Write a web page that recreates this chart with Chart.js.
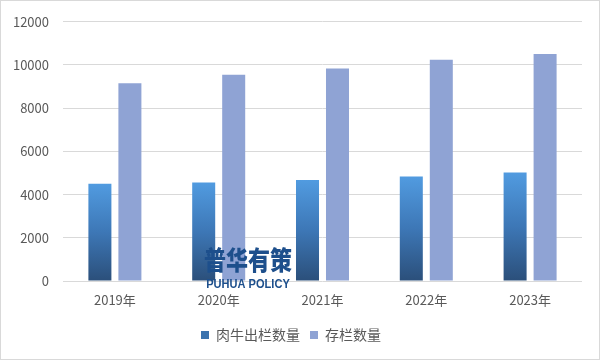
<!DOCTYPE html>
<html>
<head>
<meta charset="utf-8">
<script src="https://cdn.jsdelivr.net/npm/chart.js@4"></script>
<style>
  html, body { margin: 0; padding: 0; background: #ffffff; }
  #wrap { width: 601px; height: 361px; position: relative; }
</style>
</head>
<body>
<div id="wrap"><canvas id="c" width="601" height="361"></canvas></div>
<script>
const categories = ['2019年', '2020年', '2021年', '2022年', '2023年'];
const seriesNames = ['肉牛出栏数量', '存栏数量'];
const slaughterValues = [4500, 4560, 4680, 4840, 5020];
const stockValues = [9160, 9550, 9840, 10240, 10510];
const yTicks = [0, 2000, 4000, 6000, 8000, 10000, 12000];

const FONT = '"Noto Sans CJK SC", "Noto Sans", sans-serif';

function blueGradient(ctx) {
  const chart = ctx.chart;
  const { chartArea, scales } = chart;
  if (!chartArea || !scales.y || ctx.raw === undefined) return '#4a8bd0';
  const top = scales.y.getPixelForValue(ctx.raw);
  const bot = scales.y.getPixelForValue(0);
  const g = chart.ctx.createLinearGradient(0, top, 0, bot);
  g.addColorStop(0, '#519be0');
  g.addColorStop(0.5, '#3d77b6');
  g.addColorStop(1, '#2b4f7a');
  return g;
}

const extras = {
  id: 'extras',
  afterDraw(chart) {
    const c = chart.ctx;
    c.save();
    c.strokeStyle = '#d9d9d9';
    c.lineWidth = 1;
    c.strokeRect(0.5, 0.5, 599, 359);
    c.fillStyle = '#1d4f8c';
    c.textAlign = 'center';
    c.textBaseline = 'alphabetic';
    c.save();
    c.translate(248, 270);
    c.scale(1, 1.2);
    c.font = '900 22px ' + FONT;
    c.fillText('普华有策', 0, 0);
    c.restore();
    c.save();
    c.translate(248, 288);
    c.scale(0.85, 1);
    c.font = 'bold 13px "Liberation Sans", sans-serif';
    c.fillText('PUHUA POLICY', 0, 0);
    c.restore();
    c.restore();
  }
};

new Chart(document.getElementById('c'), {
  type: 'bar',
  data: {
    labels: categories,
    datasets: [
      { label: seriesNames[0], data: slaughterValues, backgroundColor: blueGradient,
        categoryPercentage: 0.578, barPercentage: 0.767 },
      { label: seriesNames[1], data: stockValues, backgroundColor: '#8fa3d4',
        categoryPercentage: 0.578, barPercentage: 0.767 }
    ]
  },
  options: {
    responsive: false,
    animation: false,
    layout: { padding: { left: 0, right: 19, top: 19, bottom: 9 } },
    plugins: {
      tooltip: { enabled: false },
      legend: {
        position: 'bottom',
        labels: {
          boxWidth: 8, boxHeight: 8, padding: 10,
          color: '#595959',
          font: { family: FONT, size: 14 },
          generateLabels(chart) {
            const fills = ['#3b73ae', '#8fa3d4'];
            return chart.data.datasets.map((ds, i) => ({
              text: ds.label, fillStyle: fills[i], strokeStyle: fills[i],
              lineWidth: 0, hidden: false, datasetIndex: i, fontColor: '#595959'
            }));
          }
        }
      }
    },
    scales: {
      x: {
        grid: { display: false, drawTicks: false },
        border: { display: false },
        ticks: { color: '#595959', font: { family: FONT, size: 13 }, padding: 11 },
        afterFit(s) { s.height = 37; }
      },
      y: {
        min: 0, max: 12000,
        afterBuildTicks(s) { s.ticks = yTicks.map(v => ({ value: v })); },
        grid: { color: '#d9d9d9', drawTicks: false },
        border: { display: false },
        ticks: { color: '#595959', font: { family: FONT, size: 13 }, padding: 14,
                 callback: v => String(v) },
        afterFit(s) { s.width = 63; }
      }
    }
  },
  plugins: [extras]
});
</script>
</body>
</html>
